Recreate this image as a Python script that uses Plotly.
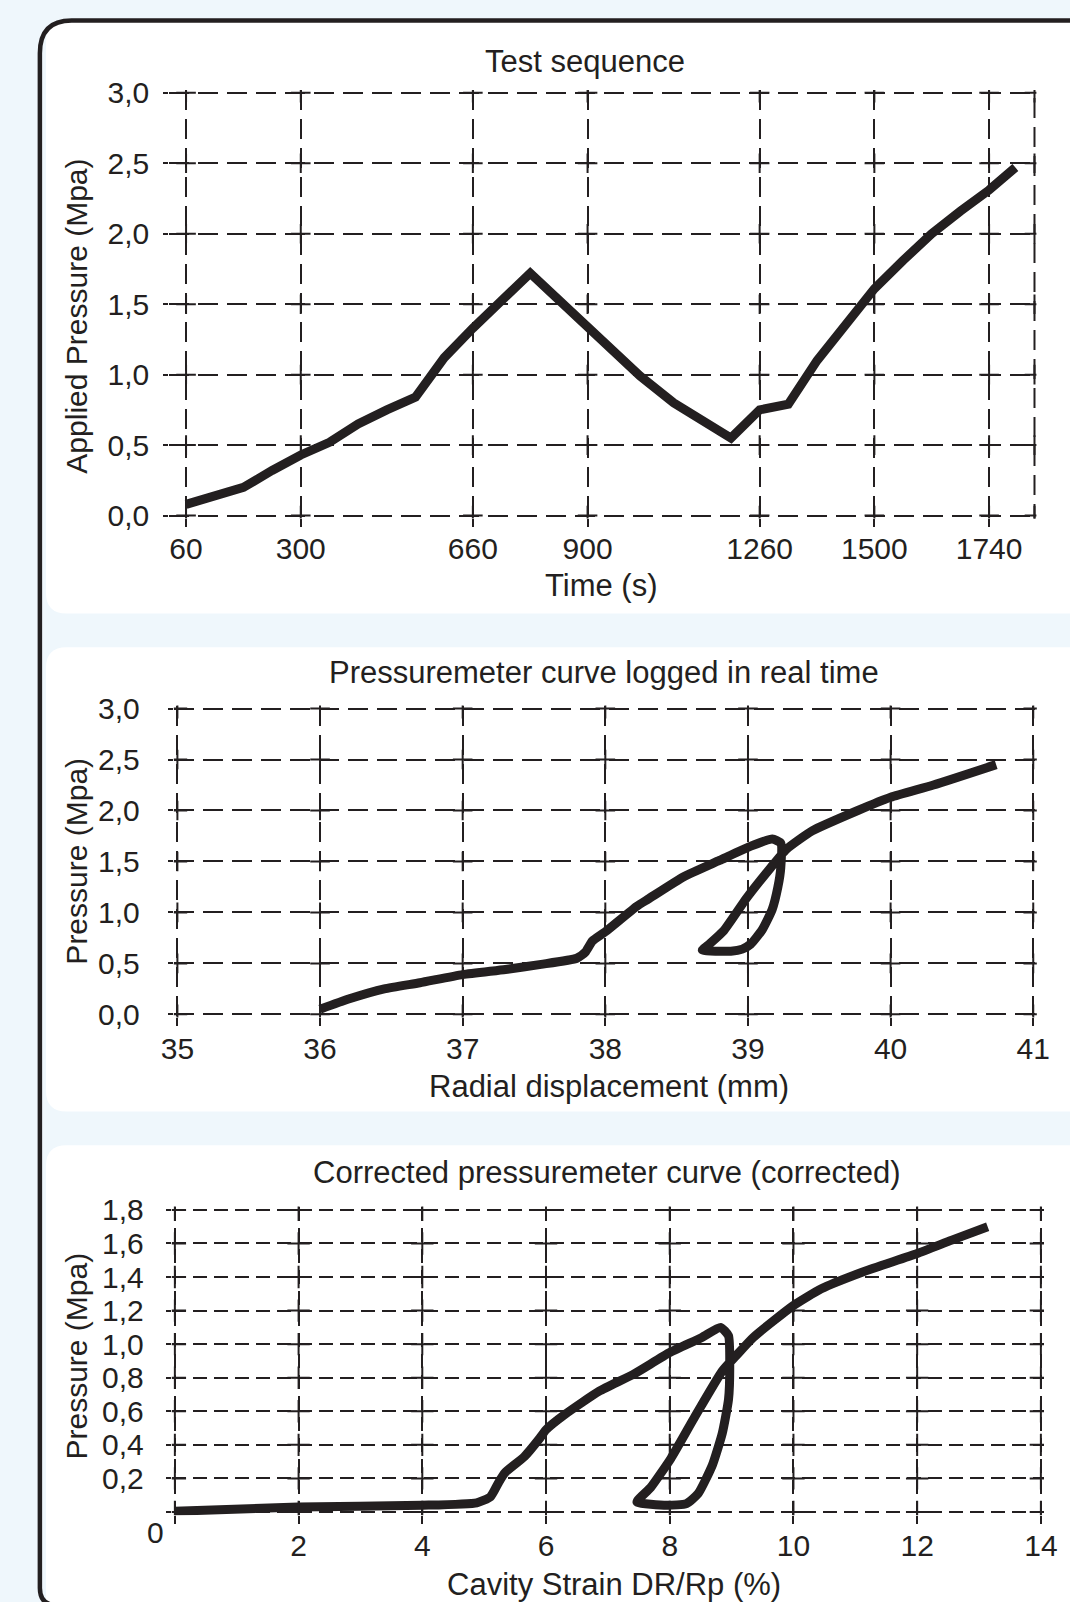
import plotly.graph_objects as go

# ---------------- data ----------------
time_s = [60, 180, 240, 300, 360, 420, 480, 540, 600, 660, 780, 900, 1010, 1080,
          1140, 1200, 1260, 1320, 1380, 1500, 1560, 1620, 1680, 1740, 1795]
applied_p = [0.08, 0.20, 0.32, 0.43, 0.52, 0.65, 0.75, 0.84, 1.12, 1.33, 1.72, 1.34,
             0.99, 0.80, 0.67, 0.55, 0.75, 0.79, 1.10, 1.61, 1.81, 2.00, 2.16, 2.31, 2.47]
time_ticks = [60, 300, 660, 900, 1260, 1500, 1740]
p1_ticks = [0.0, 0.5, 1.0, 1.5, 2.0, 2.5, 3.0]
p1_labels = ["0,0", "0,5", "1,0", "1,5", "2,0", "2,5", "3,0"]

radial_mm = [36.0, 36.2, 36.45, 36.7, 37.0, 37.3, 37.55, 37.8, 37.86, 37.91, 38.0,
             38.22, 38.3, 38.55, 38.8, 39.02, 39.17, 39.23, 39.23, 39.21, 39.17, 39.1,
             39.02, 38.96, 38.88, 38.68, 38.73, 38.83, 38.99, 39.16, 39.27, 39.45,
             39.77, 40.0, 40.3, 40.74]
pressure2 = [0.05, 0.15, 0.25, 0.31, 0.39, 0.44, 0.49, 0.55, 0.61, 0.72, 0.81,
             1.06, 1.13, 1.35, 1.51, 1.65, 1.72, 1.68, 1.44, 1.25, 1.03, 0.83,
             0.69, 0.64, 0.62, 0.63, 0.69, 0.82, 1.14, 1.44, 1.62, 1.80,
             2.00, 2.13, 2.25, 2.45]
radial_ticks = [35, 36, 37, 38, 39, 40, 41]

strain_pct = [0.0, 2.0, 4.0, 4.88, 5.1, 5.24, 5.34, 5.65, 5.9, 6.0, 6.3, 6.86, 7.41,
              8.0, 8.52, 8.82, 8.95, 8.97, 8.95, 8.85, 8.69, 8.46, 8.27, 7.96, 7.47,
              7.69, 8.02, 8.41, 8.85, 9.07, 9.35, 10.0, 10.45, 11.12, 12.0, 12.56, 13.14]
pressure3 = [0.005, 0.03, 0.04, 0.055, 0.09, 0.18, 0.235, 0.33, 0.44, 0.49, 0.58, 0.72,
             0.82, 0.95, 1.04, 1.10, 1.05, 0.86, 0.67, 0.47, 0.28, 0.11, 0.05, 0.04,
             0.06, 0.145, 0.32, 0.57, 0.84, 0.93, 1.04, 1.23, 1.33, 1.43, 1.54, 1.62, 1.70]
strain_ticks = [0, 2, 4, 6, 8, 10, 12, 14]
strain_labels = ["", "2", "4", "6", "8", "10", "12", "14"]
p3_ticks = [0.0, 0.2, 0.4, 0.6, 0.8, 1.0, 1.2, 1.4, 1.6, 1.8]
p3_labels = ["", "0,2", "0,4", "0,6", "0,8", "1,0", "1,2", "1,4", "1,6", "1,8"]

titles = ["Test sequence", "Pressuremeter curve logged in real time",
          "Corrected pressuremeter curve (corrected)"]
x_titles = ["Time (s)", "Radial displacement (mm)", "Cavity Strain DR/Rp (%)"]
y_titles = ["Applied Pressure (Mpa)", "Pressure (Mpa)", "Pressure (Mpa)"]

# ---------------- layout helpers ----------------
W, H = 1070, 1602
S = 1.0225  # positions below are measured on a 0.978-scaled view of the page
INK = "#231f20"
BG = "#eff7fc"
FONT = "Liberation Sans, Arial, sans-serif"
FS = 30
FT = 31


def fx(x):
    return x * S / W


def fy(y):
    return 1 - y * S / H


fig = go.Figure()

# curves
fig.add_trace(go.Scatter(x=time_s, y=applied_p, mode="lines", xaxis="x", yaxis="y",
                         line=dict(color=INK, width=9), showlegend=False))
fig.add_trace(go.Scatter(x=radial_mm, y=pressure2, mode="lines", xaxis="x2", yaxis="y2",
                         line=dict(color=INK, width=9, shape="spline", smoothing=0.5),
                         showlegend=False))
fig.add_trace(go.Scatter(x=strain_pct, y=pressure3, mode="lines", xaxis="x3", yaxis="y3",
                         line=dict(color=INK, width=9, shape="spline", smoothing=0.5),
                         showlegend=False))


def crosses(xt, yt, xa, ya, size):
    xs, ys = [], []
    for xv in xt:
        for yv in yt:
            xs.append(xv)
            ys.append(yv)
    fig.add_trace(go.Scatter(x=xs, y=ys, mode="markers", xaxis=xa, yaxis=ya,
                             marker=dict(symbol="cross-thin", size=size,
                                         line=dict(color=INK, width=2)),
                             showlegend=False, hoverinfo="skip", cliponaxis=True))


T1_RIGHT = 1835
crosses(time_ticks + [T1_RIGHT], p1_ticks, "x", "y", 14)
crosses(radial_ticks, p1_ticks, "x2", "y2", 14)
crosses(strain_ticks, p3_ticks, "x3", "y3", 16)

# axes
common_x = dict(showgrid=True, gridcolor=INK, gridwidth=2, zeroline=False, showline=False,
                ticks="outside", ticklen=8, tickwidth=2, tickcolor=INK, automargin=False,
                tickfont=dict(family=FONT, size=FS, color=INK), tickmode="array")
common_y = dict(showgrid=True, gridcolor=INK, gridwidth=2, zeroline=False, showline=False,
                ticks="outside", ticklen=5, tickwidth=2, tickcolor=INK, automargin=False,
                tickfont=dict(family=FONT, size=FS, color=INK), tickmode="array")

layout = dict(
    width=W, height=H, autosize=False,
    margin=dict(l=0, r=0, t=0, b=0, pad=0, autoexpand=False),
    paper_bgcolor=BG, plot_bgcolor="rgba(0,0,0,0)",
    showlegend=False,
    xaxis=dict(common_x, domain=[fx(165.6), fx(1013.6)], range=[25, T1_RIGHT + 4],
               tickvals=time_ticks, ticktext=[str(v) for v in time_ticks],
               griddash="20px,9px", anchor="y", ticklabelstandoff=-4),
    yaxis=dict(common_y, domain=[fy(507), fy(88)], range=[-0.02, 3.02],
               tickvals=p1_ticks, ticktext=p1_labels, griddash="20px,9px",
               anchor="x", ticklabelstandoff=8),
    xaxis2=dict(common_x, domain=[fx(170), fx(1014)], range=[34.975, 41.025],
                tickvals=radial_ticks, ticktext=[str(v) for v in radial_ticks],
                griddash="20px,9px", anchor="y2", ticklabelstandoff=-3),
    yaxis2=dict(common_y, domain=[fy(995), fy(690)], range=[-0.03, 3.03],
                tickvals=p1_ticks, ticktext=p1_labels, griddash="20px,9px",
                anchor="x2", ticklabelstandoff=22),
    xaxis3=dict(common_x, domain=[fx(168), fx(1021)], range=[-0.05, 14.05],
                tickvals=strain_ticks, ticktext=strain_labels,
                griddash="14px,7px", anchor="y3", ticklabelstandoff=-4),
    yaxis3=dict(common_y, domain=[fy(1482), fy(1180)], range=[-0.02, 1.82],
                tickvals=p3_ticks, ticktext=p3_labels, griddash="14px,7px",
                anchor="x3", ticklabelstandoff=16),
)
fig.update_layout(**layout)

# background frame and white panels
shapes = []
panels = [(21, 600), (633, 1087), (1120, 1640)]
for top, bot in panels:
    r = 20
    x0, x1 = 45, 1120
    path = (f"M {fx(x0)},{fy(top + r)} Q {fx(x0)},{fy(top)} {fx(x0 + r)},{fy(top)} "
            f"L {fx(x1)},{fy(top)} L {fx(x1)},{fy(bot)} L {fx(x0 + r)},{fy(bot)} "
            f"Q {fx(x0)},{fy(bot)} {fx(x0)},{fy(bot - r)} Z")
    shapes.append(dict(type="path", path=path, xref="paper", yref="paper",
                       fillcolor="white", line=dict(width=0), layer="below"))

frame = (f"M {fx(1150)},{fy(20)} L {fx(70)},{fy(20)} Q {fx(39)},{fy(20)} {fx(39)},{fy(52)} "
         f"L {fx(39)},{fy(1553)} Q {fx(39)},{fy(1570)} {fx(56)},{fy(1570)} L {fx(1150)},{fy(1570)}")
shapes.append(dict(type="path", path=frame, xref="paper", yref="paper",
                   line=dict(color=INK, width=4.5), layer="below"))

# right border of the time chart
shapes.append(dict(type="line", xref="x", yref="y", x0=T1_RIGHT, x1=T1_RIGHT, y0=-0.06, y1=3.0,
                   line=dict(color=INK, width=2, dash="20px,9px")))
fig.update_layout(shapes=shapes)

# texts
ann = []
title_pos = [(572, 60), (591, 658), (593, 1147)]
xt_pos = [(588, 573), (596, 1063), (600, 1550)]
yt_pos = [(75, 309), (75, 842), (75, 1326)]
for i in range(3):
    ann.append(dict(text=titles[i], x=fx(title_pos[i][0]), y=fy(title_pos[i][1]),
                    xref="paper", yref="paper", showarrow=False,
                    xanchor="center", yanchor="middle",
                    font=dict(family=FONT, size=FT, color=INK)))
    ann.append(dict(text=x_titles[i], x=fx(xt_pos[i][0]), y=fy(xt_pos[i][1]),
                    xref="paper", yref="paper", showarrow=False,
                    xanchor="center", yanchor="middle",
                    font=dict(family=FONT, size=FT, color=INK)))
    ann.append(dict(text=y_titles[i], x=fx(yt_pos[i][0]), y=fy(yt_pos[i][1]),
                    xref="paper", yref="paper", showarrow=False, textangle=-90,
                    xanchor="center", yanchor="middle",
                    font=dict(family=FONT, size=FS, color=INK)))
# shared origin label of the corrected curve
ann.append(dict(text="0", x=strain_ticks[0], y=p3_ticks[0], xref="x3", yref="y3",
                showarrow=False, xanchor="center", yanchor="middle", xshift=-19, yshift=-21,
                font=dict(family=FONT, size=FS, color=INK)))
fig.update_layout(annotations=ann)

fig.write_html("out.html", config={"displayModeBar": False},
               post_script="document.body.style.margin='0';document.body.style.background='" + BG + "';")
